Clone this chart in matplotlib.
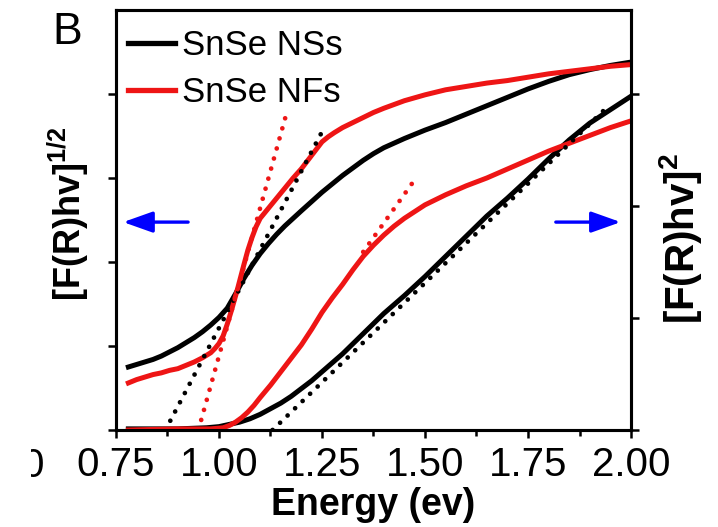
import numpy as np
import matplotlib.pyplot as plt
from matplotlib.lines import Line2D
from matplotlib.ticker import MultipleLocator
from matplotlib.transforms import Bbox, TransformedBbox

plt.rcParams['font.family'] = 'Liberation Sans'
plt.rcParams['mathtext.fontset'] = 'custom'
plt.rcParams['mathtext.rm'] = 'Liberation Sans'
plt.rcParams['mathtext.bf'] = 'Liberation Sans:bold'

RED = '#ee1515'
names = ['SnSe NSs', 'SnSe NFs']

# [F(R)hv]^1/2 curves (left axis)
ns_sqrt_x = [0.78, 0.80, 0.82, 0.84, 0.86, 0.88, 0.90, 0.92, 0.94, 0.96, 0.98,
             1.00, 1.02, 1.04, 1.06, 1.08, 1.10, 1.12, 1.14, 1.16, 1.18, 1.20,
             1.225, 1.25, 1.275, 1.30, 1.325, 1.35, 1.375, 1.40, 1.45, 1.50,
             1.55, 1.60, 1.65, 1.70, 1.75, 1.80, 1.85, 1.90, 1.95, 2.00]
ns_sqrt_y = [0.75, 0.78, 0.81, 0.84, 0.88, 0.93, 0.98, 1.04, 1.10, 1.17, 1.25,
             1.34, 1.45, 1.62, 1.80, 1.96, 2.10, 2.22, 2.33, 2.43, 2.52, 2.61,
             2.72, 2.83, 2.93, 3.03, 3.12, 3.21, 3.29, 3.36, 3.47, 3.57,
             3.66, 3.76, 3.86, 3.96, 4.06, 4.15, 4.23, 4.29, 4.34, 4.38]

nf_sqrt_x = [0.78, 0.80, 0.82, 0.84, 0.86, 0.88, 0.90, 0.92, 0.94, 0.96, 0.98,
             0.99, 1.00, 1.01, 1.02, 1.03, 1.045, 1.06, 1.07, 1.08, 1.09, 1.10,
             1.12, 1.14, 1.16, 1.18, 1.20, 1.225, 1.25, 1.265, 1.28, 1.30,
             1.325, 1.35, 1.375, 1.40, 1.45, 1.50, 1.55, 1.60, 1.65, 1.70,
             1.75, 1.80, 1.85, 1.90, 1.95, 2.00]
nf_sqrt_y = [0.56, 0.60, 0.63, 0.66, 0.68, 0.71, 0.73, 0.77, 0.81, 0.86, 0.92,
             0.97, 1.03, 1.12, 1.26, 1.42, 1.68, 1.96, 2.14, 2.29, 2.42, 2.52,
             2.64, 2.76, 2.88, 3.00, 3.11, 3.27, 3.43, 3.49, 3.54, 3.60,
             3.66, 3.72, 3.78, 3.83, 3.92, 3.99, 4.05, 4.09, 4.13, 4.16,
             4.20, 4.24, 4.27, 4.30, 4.33, 4.35]

# [F(R)hv]^2 curves (right axis)
ns_sq_x = [0.78, 0.90, 0.97, 1.00, 1.025, 1.05, 1.075, 1.10, 1.125, 1.15, 1.175,
           1.20, 1.225, 1.25, 1.275, 1.30, 1.35, 1.40, 1.45, 1.50, 1.55, 1.60,
           1.65, 1.70, 1.75, 1.80, 1.85, 1.90, 1.95, 2.00]
ns_sq_y = [0.01, 0.01, 0.02, 0.03, 0.05, 0.07, 0.10, 0.14, 0.19, 0.24, 0.30,
           0.37, 0.44, 0.52, 0.60, 0.68, 0.86, 1.04, 1.20, 1.37, 1.55, 1.73,
           1.91, 2.07, 2.24, 2.42, 2.59, 2.74, 2.86, 2.98]

nf_sq_x = [0.78, 0.90, 0.98, 1.01, 1.025, 1.04, 1.055, 1.07, 1.085, 1.10, 1.125,
           1.15, 1.175, 1.20, 1.225, 1.25, 1.275, 1.30, 1.325, 1.35, 1.375,
           1.40, 1.425, 1.45, 1.475, 1.50, 1.55, 1.60, 1.65, 1.70, 1.75, 1.80,
           1.85, 1.90, 1.95, 2.00]
nf_sq_y = [0.00, 0.01, 0.01, 0.02, 0.04, 0.07, 0.11, 0.16, 0.22, 0.29, 0.40,
           0.52, 0.64, 0.76, 0.90, 1.05, 1.18, 1.30, 1.43, 1.55, 1.65,
           1.74, 1.82, 1.89, 1.95, 2.01, 2.10, 2.18, 2.25, 2.33, 2.41, 2.49,
           2.56, 2.63, 2.70, 2.76]

# tangent lines (start, end)
ns_sqrt_fit = ([0.87, 1.25], [0.0, 3.55])
nf_sqrt_fit = ([0.95, 1.165], [0.0, 3.79])
ns_sq_fit = ([1.13, 1.95], [0.0, 2.91])
nf_sq_fit = ([1.35, 1.48], [1.59, 2.26])

xticks = [0.75, 1.00, 1.25, 1.50, 1.75, 2.00]

fig = plt.figure(figsize=(7.18, 5.27), dpi=100)
ax = fig.add_axes([116 / 718, 97 / 527, 515 / 718, 420 / 527])
ax2 = ax.twinx()

lw = 3.6
dots = dict(lw=3.4, linestyle=(0, (0.01, 2.2)), dash_capstyle='round')

ax.plot(ns_sqrt_x, ns_sqrt_y, color='black', lw=lw)
ax.plot(nf_sqrt_x, nf_sqrt_y, color=RED, lw=lw)
ax.plot(*ns_sqrt_fit, color='black', **dots)
ax.plot(*nf_sqrt_fit, color=RED, **dots)

ax2.plot(ns_sq_x, ns_sq_y, color='black', lw=lw)
ax2.plot(nf_sq_x, nf_sq_y, color=RED, lw=lw)
ax2.plot(*ns_sq_fit, color='black', **dots)
ax2.plot(*nf_sq_fit, color=RED, **dots)

ax.set_xlim(0.75, 2.0)
ax.set_ylim(0, 5)
ax2.set_ylim(0, 3.75)
ax.set_xticks(xticks)
ax.set_xticklabels([f'{v:.2f}' for v in xticks])
ax.xaxis.set_minor_locator(MultipleLocator(0.125))
ax.set_yticks([0, 1, 2, 3, 4])
ax2.set_yticks([0, 1, 2, 3])

ax.tick_params(axis='x', which='major', length=6, width=1.8, pad=5.5,
               labelsize=29, direction='out')
ax.tick_params(axis='x', which='minor', length=4, width=1.8, direction='out')
ax.tick_params(axis='y', length=6, width=1.8, labelleft=False, direction='out')
ax2.tick_params(axis='y', length=6, width=1.8, labelright=False, direction='out')
for a in (ax, ax2):
    for s in a.spines.values():
        s.set_linewidth(2.2)

ax.set_xlabel('Energy (ev)', fontsize=27, fontweight='bold', labelpad=2)
fig.text(68 / 718, 1 - 214 / 527, r'$\mathbf{[F(R)hv]^{1/2}}$', fontsize=26,
         rotation=90, ha='center', va='center')
fig.text(680 / 718, 1 - 238 / 527, r'$\mathbf{[F(R)hv]^{2}}$', fontsize=29,
         rotation=90, ha='center', va='center')
fig.text(52 / 718, 1 - 44 / 527, 'B', fontsize=32, ha='left', va='baseline')

# stray digit from the neighbouring panel
zero = fig.text(33 / 718, 1 - 477 / 527, '0', fontsize=29, ha='center',
                va='baseline')
zero.set_clip_box(TransformedBbox(Bbox([[31 / 718, 0], [1, 1]]), fig.transFigure))
zero.set_clip_on(True)

arrow = dict(arrowstyle='-|>,head_length=0.9,head_width=0.32', mutation_scale=20,
             color='#0000ff', lw=2.4, shrinkA=0, shrinkB=0)
ax2.annotate('', xy=(0.014, 0.495), xytext=(0.14, 0.495),
             xycoords='axes fraction', arrowprops=arrow)
ax2.annotate('', xy=(0.98, 0.495), xytext=(0.854, 0.495),
             xycoords='axes fraction', arrowprops=arrow)

handles = [Line2D([], [], color='black', lw=3.8), Line2D([], [], color=RED, lw=3.8)]
ax2.legend(handles, names, loc='upper left', bbox_to_anchor=(0.023, 0.955),
           frameon=False, fontsize=25, handlelength=1.35, handletextpad=0.2,
           labelspacing=0.42, borderaxespad=0, borderpad=0)

fig.savefig('out.png', dpi=100)
